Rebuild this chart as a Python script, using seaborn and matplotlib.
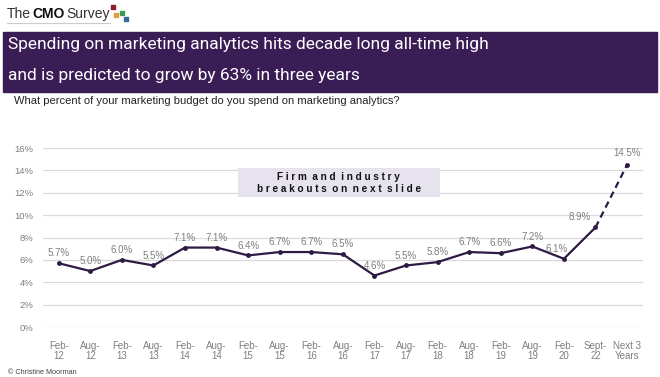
import numpy as np
import pandas as pd
import matplotlib
matplotlib.use("Agg")
import matplotlib.pyplot as plt
import seaborn as sns
from matplotlib.patches import Rectangle
from matplotlib.lines import Line2D

periods = ["Feb-\n12", "Aug-\n12", "Feb-\n13", "Aug-\n13", "Feb-\n14", "Aug-\n14",
           "Feb-\n15", "Aug-\n15", "Feb-\n16", "Aug-\n16", "Feb-\n17", "Aug-\n17",
           "Feb-\n18", "Aug-\n18", "Feb-\n19", "Aug-\n19", "Feb-\n20", "Sept-\n22",
           "Next 3\nYears"]
spend = [5.7, 5.0, 6.0, 5.5, 7.1, 7.1, 6.4, 6.7, 6.7, 6.5, 4.6, 5.5,
         5.8, 6.7, 6.6, 7.2, 6.1, 8.9, 14.5]
y_ticks = [0, 2, 4, 6, 8, 10, 12, 14, 16]

line_col = "#2e1a44"
band_col = "#3b1d56"
grey = "#7f7f7f"

df = pd.DataFrame({"pos": np.arange(len(periods)), "period": periods, "spend": spend})
actual = df.iloc[:-1]
forecast = df.iloc[-2:]

sns.set_theme(style="white")
plt.rcParams["font.family"] = ["Liberation Sans", "DejaVu Sans"]

fig = plt.figure(figsize=(6.6, 3.77), dpi=100)
ax = fig.add_axes([0.065, 0.1326, 0.909, 0.4748])

sns.lineplot(data=actual, x="pos", y="spend", ax=ax, color=line_col, lw=1.6,
             marker="o", markersize=3.5, markeredgewidth=0)
sns.lineplot(data=forecast, x="pos", y="spend", ax=ax, color=line_col, lw=1.6,
             linestyle=(0, (3, 2)))
ax.plot(forecast["pos"].iloc[-1], forecast["spend"].iloc[-1], "o",
        color=line_col, markersize=3.5, markeredgewidth=0)

# data labels
for _, r in df.iterrows():
    dx, dy, ha = 0, 3.5, "center"
    if r["period"].startswith("Feb-\n20"):
        dx, dy = -5, 3.5
    if r["period"].startswith("Sept"):
        dx, dy, ha = -3, 4, "right"
    if r["period"].startswith("Next"):
        dy = 5
    ax.annotate(f"{r['spend']:.1f}%", (r["pos"], r["spend"]), xytext=(dx, dy),
                textcoords="offset points", ha=ha, va="bottom",
                fontsize=7, color=grey)

ax.set_xlim(-0.5, len(periods) - 0.5)
ax.set_ylim(0, 16)
ax.set_yticks(y_ticks)
ax.set_yticklabels([f"{t}%" for t in y_ticks], fontsize=6.8, color=grey)
ax.set_xticks(df["pos"])
ax.set_xticklabels(periods, fontsize=7, color=grey, linespacing=1.05)
ax.tick_params(axis="x", pad=10, length=0)
ax.tick_params(axis="y", pad=7, length=0)
ax.set_xlabel("")
ax.set_ylabel("")
ax.grid(axis="y", color="#d9d9d9", lw=0.9)
ax.set_axisbelow(True)
sns.despine(ax=ax, left=True, bottom=True)

# note box
ax.add_patch(Rectangle((5.67, 11.6), 6.4, 2.6, color="#e7e3ee", zorder=1, lw=0))
ax.text(8.87, 12.9, "F i r m  a n d  i n d u s t r y\nb r e a k o u t s  o n  n e x t  s l i d e",
        ha="center", va="center", fontsize=7.2, fontweight="bold", color="#111111",
        linespacing=1.25, zorder=2)

# title band
fig.patches.append(Rectangle((0.005, 0.756), 0.99, 0.159, transform=fig.transFigure,
                             color=band_col, zorder=0))
fig.text(0.012, 0.881, "Spending on marketing analytics hits decade long all-time high",
         color="white", fontsize=12.5, va="center", ha="left", family=["Roboto", "DejaVu Sans"])
fig.text(0.012, 0.801, "and is predicted to grow by 63% in three years",
         color="white", fontsize=12.5, va="center", ha="left", family=["Roboto", "DejaVu Sans"])

fig.text(0.021, 0.732, "What percent of your marketing budget do you spend on marketing analytics?",
         fontsize=8, color="#222222", va="center", ha="left")

# header logo
fig.text(0.0106, 0.963, "The", fontsize=10, color="#333333", va="center", ha="left")
fig.text(0.0485, 0.963, "CMO", fontsize=10, color="#111111", fontweight="bold", va="center", ha="left")
fig.text(0.100, 0.963, "Survey", fontsize=10, color="#333333", va="center", ha="left")
fig.lines.append(Line2D([0.0106, 0.167], [0.94, 0.94], transform=fig.transFigure,
                        color="#cccccc", lw=0.8))
for (cx, cy, c) in [(113, 7, "#8b1f2f"), (116, 15, "#e39b45"),
                    (122, 13, "#3c9a52"), (126, 19, "#3a6a9e")]:
    fig.patches.append(Rectangle(((cx - 2) / 660, 1 - (cy + 2) / 377), 4 / 660, 4 / 377,
                                 transform=fig.transFigure, color=c))

fig.text(0.012, 0.011, "© Christine Moorman", fontsize=5.2, color="#444444",
         va="center", ha="left")

fig.savefig("out.png", dpi=100)
